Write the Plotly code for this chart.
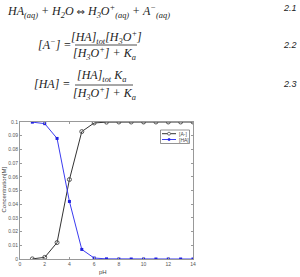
import plotly.graph_objects as go

ph = [1, 2, 3, 4, 5, 6, 7, 8, 9, 10, 11, 12, 13, 14]
a_minus = [0.0001, 0.0012, 0.012, 0.058, 0.093, 0.0993, 0.0999, 0.1, 0.1, 0.1, 0.1, 0.1, 0.1, 0.1]
ha = [0.0999, 0.0988, 0.088, 0.042, 0.007, 0.0007, 0.0001, 0.0, 0.0, 0.0, 0.0, 0.0, 0.0, 0.0]
series_names = ["[A-]", "[HA]"]
y_ticks = [0, 0.01, 0.02, 0.03, 0.04, 0.05, 0.06, 0.07, 0.08, 0.09, 0.1]
y_labels = ["0", "0.01", "0.02", "0.03", "0.04", "0.05", "0.06", "0.07", "0.08", "0.09", "0.1"]
x_ticks = [0, 2, 4, 6, 8, 10, 12, 14]
x_title = "pH"
y_title = "Concentration[M]"

W, H = 300, 277
L, R, T, B = 20, 193, 122, 259

def px(x):
    return (x - L) / (R - L)

def py(y):
    return (B - y) / (B - T)

BLACK = "#333333"
BLUE = "#3b3bf0"

fig = go.Figure()
fig.add_trace(go.Scatter(x=ph, y=a_minus, name=series_names[0], mode="lines+markers",
                         line=dict(color=BLACK, width=1),
                         marker=dict(symbol="circle-open", size=4, color="#555555", line=dict(width=1))))
fig.add_trace(go.Scatter(x=ph, y=ha, name=series_names[1], mode="lines+markers",
                         line=dict(color=BLUE, width=1),
                         marker=dict(symbol="square", size=3, color="#2020e0")))

eqfont = dict(family="Liberation Serif", size=12, color="#222222")
numfont = dict(family="Liberation Sans", size=9, color="#222222")
legfont = dict(family="Liberation Sans", size=5, color="#444444")
titlefont = dict(family="Liberation Sans", size=6, color="#444444")

anns = []
def ann(text, x, y, font, xanchor="center", textangle=0):
    anns.append(dict(text=text, x=px(x), y=py(y), xref="paper", yref="paper", textangle=textangle,
                     showarrow=False, font=font, xanchor=xanchor, yanchor="middle", borderpad=0))

ann("<i>HA<sub>(aq)</sub> + H<sub>2</sub>O </i><span style='font-family:DejaVu Sans;font-size:10px'>⇔</span>"
    "<i> H<sub>3</sub>O<sup>+</sup><sub>(aq)</sub> + A<sup>−</sup><sub>(aq)</sub></i>", 6, 11, eqfont, "left")
ann("<i>2.1</i>", 290, 8, numfont)
ann("<i>[A<sup>−</sup>] =</i>", 37, 45, eqfont, "left")
ann("<i>[HA]<sub>tot</sub>[H<sub>3</sub>O<sup>+</sup>]</i>", 106, 37, eqfont)
ann("<i>[H<sub>3</sub>O<sup>+</sup>] + K<sub>a</sub></i>", 104, 54, eqfont)
ann("<i>2.2</i>", 290, 45, numfont)
ann("<i>[HA] =</i>", 71, 84, eqfont, "right")
ann("<i>[HA]<sub>tot</sub> K<sub>a</sub></i>", 101, 75.5, eqfont)
ann("<i>[H<sub>3</sub>O<sup>+</sup>] + K<sub>a</sub></i>", 104, 93.5, eqfont)
ann("<i>2.3</i>", 290, 84, numfont)

# axis titles
ann(x_title, 103, 272, titlefont)
ann(y_title, 3.5, 190, titlefont, textangle=-90)

# custom compact legend (MATLAB-style)
ann(series_names[0], 178, 133.7, legfont, "left")
ann(series_names[1], 178, 139.5, legfont, "left")

def pshape(kind, x0, y0, x1, y1, **kw):
    return dict(type=kind, xref="paper", yref="paper", x0=px(x0), x1=px(x1), y0=py(y0), y1=py(y1), **kw)

shapes = [
    pshape("line", 75, 45, 137, 45, line=dict(color="#222222", width=0.8)),
    pshape("line", 75, 85, 133, 85, line=dict(color="#222222", width=0.8)),
    pshape("rect", 160.5, 130, 189.5, 143.5, line=dict(color="#666666", width=0.7), fillcolor="white"),
    pshape("line", 162, 133.7, 176, 133.7, line=dict(color=BLACK, width=1)),
    pshape("circle", 167.5, 132.2, 170.5, 135.2, line=dict(color="#555555", width=0.8), fillcolor="white"),
    pshape("line", 162, 139.5, 176, 139.5, line=dict(color=BLUE, width=1)),
    pshape("rect", 168.2, 138.5, 170.0, 140.4, line=dict(color="#2020e0", width=0.5), fillcolor="#2020e0"),
]

axis_common = dict(showline=True, linecolor="#999999", linewidth=1, mirror="ticks",
                   ticks="inside", ticklen=2, tickcolor="#999999", showgrid=False,
                   zeroline=False, automargin=False,
                   tickfont=dict(family="Liberation Sans", size=5, color="#555555"))

fig.update_layout(
    width=W, height=H,
    margin=dict(l=L, r=W - R, t=T, b=H - B, pad=0),
    paper_bgcolor="white", plot_bgcolor="white",
    showlegend=False,
    xaxis=dict(range=[0, 14], tickvals=x_ticks, **axis_common),
    yaxis=dict(range=[0, 0.1], tickvals=y_ticks, ticktext=y_labels, **axis_common),
    annotations=anns, shapes=shapes,
)

fig.write_html("out.html")
